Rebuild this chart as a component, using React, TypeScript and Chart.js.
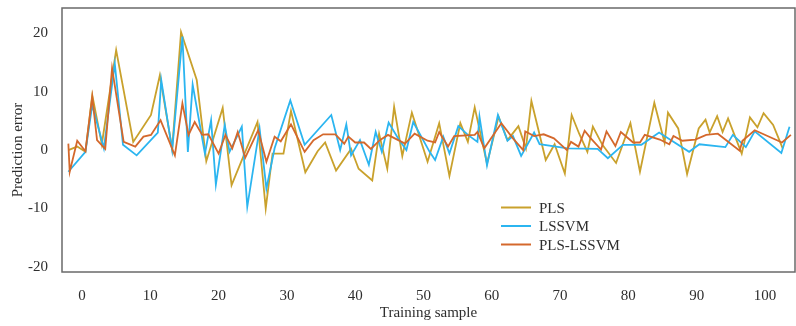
import React, { useEffect, useRef } from "react";
import { Chart, registerables } from "chart.js";

Chart.register(...registerables);

const xTickValues = [0, 10, 20, 30, 40, 50, 60, 70, 80, 90, 100];
const yTickValues = [-20, -10, 0, 10, 20];

const seriesNames = ["PLS", "LSSVM", "PLS-LSSVM"];
const seriesColors = ["#C9A12C", "#2BB5F0", "#D4682C"];

const plsX = [-2, -0.7, 0.5, 1.5, 2.9, 5.0, 7.5, 10.1, 11.4, 13.2, 14.5, 16.8, 18.2, 20.6, 21.9, 25.7, 26.9, 27.9, 29.5, 30.6, 32.7, 34.5, 35.6, 37.2, 39.4, 40.5, 42.5, 43.5, 44.7, 45.7, 46.9, 48.3, 50.6, 52.3, 53.8, 55.4, 56.5, 57.5, 59.3, 61.0, 62.3, 63.9, 65.0, 65.8, 67.9, 69.2, 70.7, 71.7, 72.8, 74.0, 74.8, 76.2, 78.2, 80.3, 81.7, 83.8, 85.3, 85.8, 87.3, 88.6, 90.3, 91.3, 91.9, 93.0, 93.8, 94.6, 96.6, 97.8, 98.9, 99.8, 101.2, 102.6];
const plsY = [0, 0.6, -0.3, 9.4, 1.0, 17.1, 1.4, 6.0, 12.8, 0.2, 20.2, 12.0, -1.9, 7.2, -6.0, 4.8, -10.0, -0.6, -0.6, 6.7, -3.8, -0.2, 1.3, -3.5, 0.2, -3.2, -5.2, 2.8, -3.2, 7.4, -1.0, 6.4, -2.0, 4.6, -4.4, 4.6, 1.4, 7.3, -2.3, 5.7, 1.7, 4.1, 0.3, 8.4, -1.7, 1.0, -4.0, 6.0, 2.8, -0.3, 4.0, 0.9, -2.2, 4.6, -3.7, 8.1, 1.3, 6.4, 3.7, -4.1, 3.7, 5.2, 3.0, 5.8, 3.1, 5.4, -0.6, 5.6, 3.9, 6.3, 4.3, 0.3];

const lssvmX = [-2, 0.5, 1.5, 3.2, 4.8, 6.0, 8.0, 11.1, 11.6, 13.2, 14.7, 15.5, 16.2, 18.0, 18.9, 19.6, 20.9, 21.6, 23.4, 24.2, 26.0, 27.0, 28.2, 30.5, 32.6, 36.5, 37.8, 38.7, 39.4, 40.7, 42.0, 43.0, 43.9, 44.9, 46.3, 47.5, 48.5, 50.9, 51.7, 52.9, 53.8, 55.1, 56.5, 57.9, 58.2, 59.3, 60.9, 62.3, 63.1, 64.3, 66.2, 67.0, 71.1, 75.5, 77.0, 79.2, 81.9, 84.5, 88.9, 90.4, 94.2, 95.3, 97.2, 98.5, 102.4, 103.6];
const lssvmY = [-3.7, -0.3, 7.7, 0.3, 14.8, 0.9, -0.9, 3.0, 12.0, 0, 19.4, -0.3, 11.2, -0.6, 5.1, -5.9, 4.3, -0.3, 4.0, -9.7, 3.7, -6.6, 0.3, 8.5, 0.9, 6.0, 0, 4.4, -0.9, 1.7, -2.5, 3.1, -0.3, 4.7, 2.0, 0, 4.8, -0.3, -1.7, 2.3, -0.6, 4.1, 2.6, 1.4, 5.7, -2.6, 6.0, 1.6, 2.4, -1.0, 3.0, 1.0, 0.3, 0.2, -1.4, 0.9, 0.9, 3.0, -0.3, 1.0, 0.5, 2.6, 0.5, 3.2, -0.5, 4.0];

const plsLssvmX = [-2.0, -1.8, -0.7, 0.5, 1.5, 2.2, 3.4, 4.4, 6.1, 7.8, 9.0, 10.1, 11.5, 13.6, 14.7, 15.6, 16.5, 17.6, 18.5, 20.0, 21.0, 22.0, 22.8, 23.9, 25.8, 27.0, 28.2, 29.1, 30.6, 32.6, 33.9, 35.3, 37.1, 38.4, 39.0, 40.0, 41.3, 42.3, 43.6, 44.8, 46.3, 47.3, 48.7, 50.6, 51.7, 52.3, 53.6, 54.5, 57.5, 57.9, 58.9, 61.4, 63.1, 64.6, 64.9, 66.2, 67.6, 69.1, 71.0, 71.6, 72.7, 73.6, 74.5, 76.0, 76.8, 78.1, 78.9, 80.7, 81.7, 82.4, 84.6, 86.0, 86.6, 87.9, 89.8, 91.4, 93.1, 96.3, 96.7, 98.5, 102.5, 103.8];
const plsLssvmY = [1.1, -3.7, 1.6, -0.2, 9.1, 1.7, 0.2, 14.0, 1.4, 0.6, 2.3, 2.6, 5.1, -0.9, 8.0, 2.6, 4.8, 2.6, 2.7, -0.6, 2.6, 0.3, 3.1, -1.3, 3.4, -2.0, 2.3, 1.5, 4.4, -0.3, 1.7, 2.7, 2.7, 1.1, 2.3, 1.3, 1.3, 0.2, 1.7, 2.6, 1.7, 1.1, 2.8, 1.6, 1.3, 3.1, 0.6, 2.4, 2.6, 3.1, 0.3, 4.6, 2.0, 0, 3.2, 2.4, 2.7, 2.0, 0, 1.4, 0.6, 3.3, 2.0, 0.1, 3.2, 0.7, 3.1, 1.3, 1.3, 2.6, 1.8, 1.0, 2.4, 1.6, 1.8, 2.6, 2.8, -0.1, 1.6, 3.4, 1.3, 2.6];

const xAxisTitle = "Training sample";
const yAxisTitle = "Prediction error";

const FONT = "'Liberation Serif', 'Times New Roman', serif";
const TEXT_COLOR = "#2e2e2e";

const toPoints = (xs: number[], ys: number[]) => xs.map((x, i) => ({ x, y: ys[i] }));

const framePlugin = {
  id: "frameAndExtras",
  afterDraw(chart: any) {
    const { ctx, chartArea } = chart;
    ctx.save();
    ctx.strokeStyle = "#6a6a6a";
    ctx.lineWidth = 1.5;
    ctx.strokeRect(chartArea.left, chartArea.top, chartArea.right - chartArea.left, chartArea.bottom - chartArea.top);
    ctx.fillStyle = TEXT_COLOR;
    ctx.font = `15px ${FONT}`;
    ctx.textAlign = "center";
    ctx.textBaseline = "middle";
    ctx.fillText(xAxisTitle, (chartArea.left + chartArea.right) / 2, 313);
    ctx.save();
    ctx.translate(18, 150);
    ctx.rotate(-Math.PI / 2);
    ctx.fillText(yAxisTitle, 0, 0);
    ctx.restore();
    const ds = chart.data.datasets;
    ds.forEach((d: any, i: number) => {
      const y = 207.5 + i * 18.5;
      ctx.strokeStyle = d.borderColor;
      ctx.lineWidth = 2;
      ctx.beginPath();
      ctx.moveTo(501, y);
      ctx.lineTo(531, y);
      ctx.stroke();
      ctx.fillStyle = TEXT_COLOR;
      ctx.textAlign = "left";
      ctx.textBaseline = "alphabetic";
      ctx.fillText(d.label, 539, y + 5);
    });
    ctx.restore();
  },
};

export default function App() {
  const canvasRef = useRef<HTMLCanvasElement | null>(null);

  useEffect(() => {
    if (!canvasRef.current) return;
    const xsList = [plsX, lssvmX, plsLssvmX];
    const ysList = [plsY, lssvmY, plsLssvmY];
    const chart = new Chart(canvasRef.current, {
      type: "line",
      data: {
        datasets: seriesNames.map((name, i) => ({
          label: name,
          data: toPoints(xsList[i], ysList[i]),
          borderColor: seriesColors[i],
          backgroundColor: seriesColors[i],
          borderWidth: 1.8,
          pointRadius: 0,
          tension: 0,
          fill: false,
          order: 3 - i,
        })),
      },
      options: {
        responsive: false,
        animation: false,
        layout: { padding: { top: 8, right: 1, left: 0, bottom: 0 } },
        plugins: { legend: { display: false }, tooltip: { enabled: false } },
        scales: {
          x: {
            type: "linear",
            min: -2.93,
            max: 104.4,
            grid: { display: false, drawTicks: false },
            border: { display: false },
            afterBuildTicks: (s: any) => {
              s.ticks = xTickValues.map((v) => ({ value: v }));
            },
            afterFit: (s: any) => {
              s.height = 54;
              s.paddingLeft = 0;
              s.paddingRight = 0;
              s.paddingTop = 0;
              s.paddingBottom = 0;
            },
            ticks: {
              autoSkip: false,
              maxRotation: 0,
              padding: 15,
              color: TEXT_COLOR,
              font: { family: FONT, size: 15 },
            },
          },
          y: {
            type: "linear",
            min: -20.85,
            max: 24.3,
            grid: { display: false, drawTicks: false },
            border: { display: false },
            afterBuildTicks: (s: any) => {
              s.ticks = yTickValues.map((v) => ({ value: v }));
            },
            afterFit: (s: any) => {
              s.width = 62;
              s.paddingLeft = 0;
              s.paddingRight = 0;
              s.paddingTop = 0;
              s.paddingBottom = 0;
            },
            ticks: {
              padding: 14,
              color: TEXT_COLOR,
              font: { family: FONT, size: 15 },
            },
          },
        },
      },
      plugins: [framePlugin],
    });
    return () => chart.destroy();
  }, []);

  return (
    <div style={{ position: "fixed", left: 0, top: 0, width: 796, height: 326, background: "#fff" }}>
      <canvas ref={canvasRef} width={796} height={326} style={{ width: 796, height: 326 }} />
    </div>
  );
}
